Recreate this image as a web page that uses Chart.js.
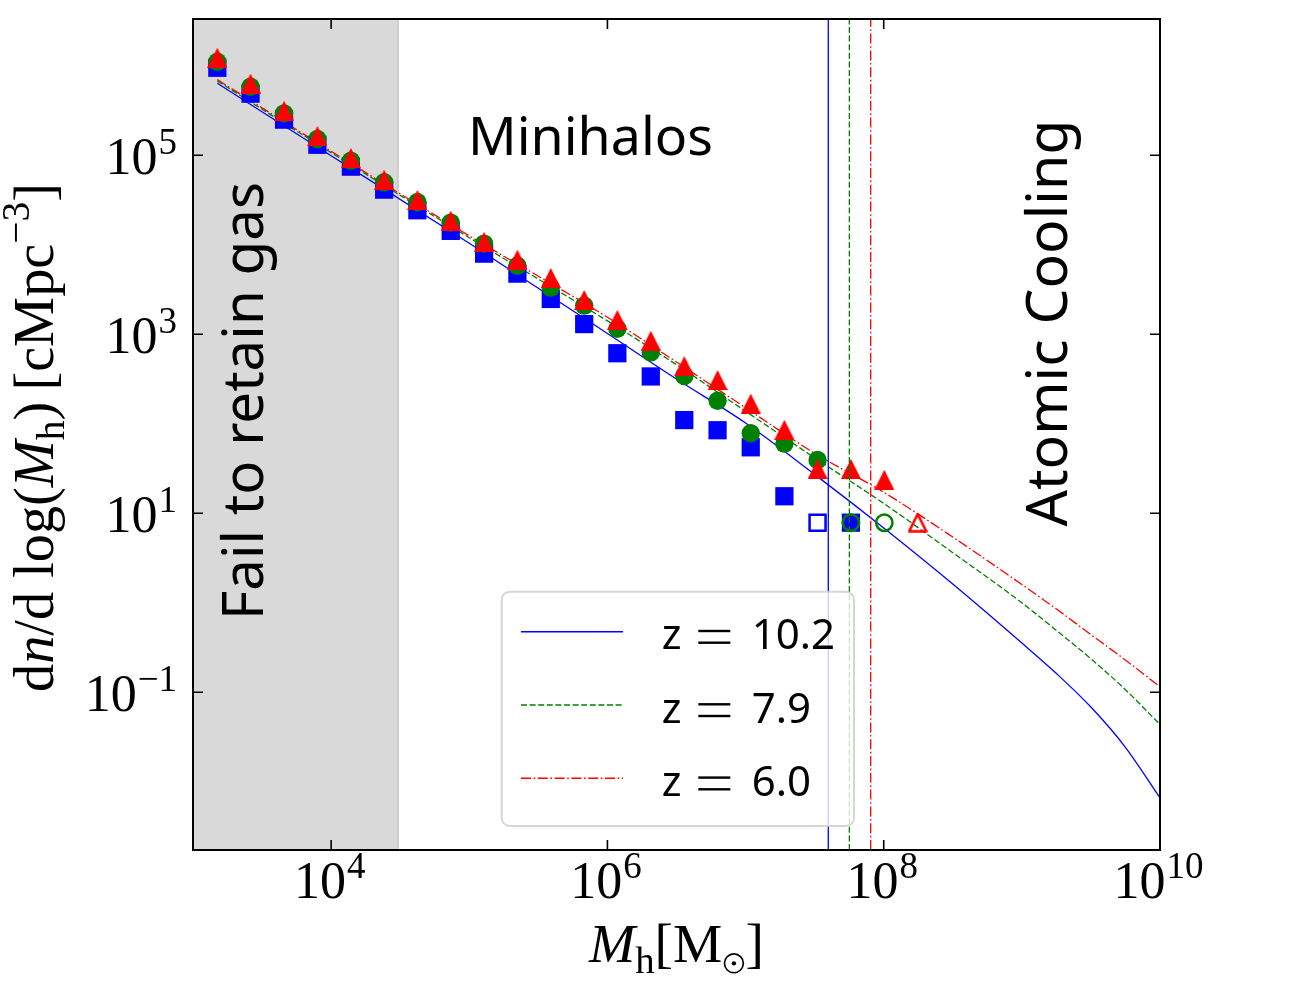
<!DOCTYPE html>
<html>
<head>
<meta charset="utf-8">
<script src="https://cdn.jsdelivr.net/npm/chart.js@4.4.1/dist/chart.umd.min.js"></script>
<style>
  html, body { margin: 0; padding: 0; background: #fff; }
</style>
</head>
<body>
<canvas id="chart" width="1290" height="1000"></canvas>
<script>
'use strict';

// halo mass bins of the simulation points (Msun)
const binMass = [1.50e3, 2.61e3, 4.56e3, 7.95e3, 1.39e4, 2.42e4, 4.21e4, 7.34e4, 1.28e5, 2.23e5, 3.89e5,
                 6.79e5, 1.18e6, 2.06e6, 3.60e6, 6.27e6, 1.09e7, 1.91e7, 3.32e7, 5.79e7, 1.01e8, 1.76e8];

// dn/dlogM from the simulation (cMpc^-3)
const simZ102 = [9.5e5, 4.88e5, 2.50e5, 1.31e5, 7.46e4, 4.13e4, 2.43e4, 1.43e4, 7.96e3, 4.76e3, 2.48e3,
                 1.30e3, 614, 338, 110, 84.7, 54.6, 15.5, 7.85, 7.85, null, null];
const simZ79 = [1.11e6, 5.83e5, 2.94e5, 1.52e5, 8.71e4, 4.99e4, 3.01e4, 1.77e4, 1.03e4, 5.84e3, 3.32e3,
                2.09e3, 1.15e3, 627, 342, 181, 78.3, 60.0, 39.4, 7.85, 7.85, null];
const simZ60 = [1.23e6, 6.31e5, 3.14e5, 1.64e5, 9.33e4, 5.34e4, 3.17e4, 1.86e4, 1.08e4, 6.82e3, 4.26e3,
                2.42e3, 1.45e3, 848, 441, 308, 168, 85.9, 31.3, 31.3, 23.7, 7.85];

// bins drawn as open markers
const hollowZ102 = [18];
const hollowZ79 = [19, 20];
const hollowZ60 = [21];

// analytic mass function curves
const fitMass = [1.5e3, 1e4, 1e5, 1e6, 3.16e6, 1e7, 3.16e7, 1e8, 3.16e8, 1e9, 1.78e9, 3.16e9, 5.62e9, 1e10];
const fitZ102 = [6.37e5, 9.86e4, 1.04e4, 1.02e3, 316, 102, 27.2, 6.84, 1.62, 0.355, 0.162, 0.0684, 0.0243, 0.00661];
const fitZ79 = [6.76e5, 1.07e5, 1.20e4, 1.41e3, 457, 138, 41.7, 12.9, 3.63, 1.0, 0.49, 0.237, 0.107, 0.0437];
const fitZ60 = [7.00e5, 1.11e5, 1.26e4, 1.55e3, 490, 151, 46.8, 17.2, 5.43, 1.60, 0.851, 0.442, 0.229, 0.115];

// atomic cooling threshold for each redshift, and gas retention limit
const coolingMass = [3.97e7, 5.64e7, 8.05e7];
const gasCutMass = 3.05e4;

const zLabels = ['10.2', '7.9', '6.0'];
const xRange = [1e3, 1e10];
const yRange = [1.73e-3, 3.33e6];
const xTickPowers = [4, 6, 8, 10];
const yTickPowers = [5, 3, 1, -1];

const SERIF = '"Liberation Serif", "DejaVu Serif", serif';
const SANS = '"Noto Sans", "DejaVu Sans", sans-serif';
const colors = ['#0000ff', '#008000', '#ff0000'];
const dashes = [[], [6, 2.6], [10, 2.6, 1.6, 2.6]];

function pairs(xs, ys) {
  return xs.map((x, i) => ({ x: x, y: ys[i] }));
}

function makeTriangle(color, hollow) {
  let size = 20;
  let c = document.createElement('canvas');
  c.width = size;
  c.height = size;
  let g = c.getContext('2d');
  g.beginPath();
  if (hollow) {
    let p = 1.4;
    g.moveTo(size / 2, p);
    g.lineTo(size - p, size - p);
    g.lineTo(p, size - p);
    g.closePath();
    g.lineJoin = 'round';
    g.lineWidth = 2.5;
    g.strokeStyle = color;
    g.stroke();
  } else {
    g.moveTo(size / 2, 0);
    g.lineTo(size, size);
    g.lineTo(0, size);
    g.closePath();
    g.fillStyle = color;
    g.fill();
  }
  return c;
}
const triFull = makeTriangle(colors[2], false);
const triOpen = makeTriangle(colors[2], true);

function markerSet(values, hollow, color, style, order) {
  return {
    data: pairs(binMass, values),
    showLine: false,
    order: order,
    pointStyle: c => {
      if (style === 'triangle') return hollow.includes(c.dataIndex) ? triOpen : triFull;
      return style;
    },
    pointRadius: c => {
      let open = hollow.includes(c.dataIndex);
      if (style === 'rect') return open ? 11.3 : 12.9;
      return open ? 8.2 : 9.2;
    },
    pointBorderWidth: c => hollow.includes(c.dataIndex) ? 2.5 : 0,
    pointBackgroundColor: c => hollow.includes(c.dataIndex) ? 'rgba(0,0,0,0)' : color,
    pointBorderColor: color
  };
}

function curveSet(values, i) {
  return {
    data: pairs(fitMass, values),
    showLine: true,
    order: 10 + i,
    borderColor: colors[i],
    borderWidth: 1.3,
    borderDash: dashes[i],
    pointRadius: 0,
    cubicInterpolationMode: 'monotone',
    fill: false
  };
}

function vlineSet(i) {
  return {
    data: [{ x: coolingMass[i], y: yRange[0] }, { x: coolingMass[i], y: yRange[1] }],
    showLine: true,
    order: 0,
    borderColor: colors[i],
    borderWidth: 1.3,
    borderDash: dashes[i],
    pointRadius: 0,
    fill: false
  };
}

function pieceFont(p, base) {
  return (p.it ? 'italic ' : '') + (p.s || 1) * base + 'px ' + SERIF;
}

function piecesWidth(ctx, pieces, base) {
  let total = 0;
  for (let p of pieces) {
    if (p.sun) {
      p.w = 0.42 * base;
    } else {
      ctx.font = pieceFont(p, base);
      p.w = ctx.measureText(p.t).width;
    }
    total += p.w;
  }
  return total;
}

// draw a run of text pieces (math-like label) centred on cx
function drawPieces(ctx, pieces, base, cx, baseY) {
  let total = piecesWidth(ctx, pieces, base);
  let x = cx - total / 2;
  for (let p of pieces) {
    let y = baseY + (p.dy || 0) * base;
    if (p.sun) {
      let r = 0.17 * base;
      ctx.beginPath();
      ctx.lineWidth = 0.03 * base;
      ctx.arc(x + p.w / 2, y - r, r, 0, Math.PI * 2);
      ctx.stroke();
      ctx.beginPath();
      ctx.arc(x + p.w / 2, y - r, 0.04 * base, 0, Math.PI * 2);
      ctx.fill();
    } else {
      ctx.font = pieceFont(p, base);
      ctx.fillText(p.t, x, y);
    }
    x += p.w;
  }
}

function fitPieces(ctx, pieces, target) {
  return 100 * target / piecesWidth(ctx, pieces, 100);
}

function powerLabel(ctx, exp, x, y, align) {
  let expText = exp < 0 ? '\u2212' + (-exp) : String(exp);
  ctx.font = '52px ' + SERIF;
  let wb = ctx.measureText('10').width;
  ctx.font = '37px ' + SERIF;
  let we = ctx.measureText(expText).width;
  let x0 = align === 'right' ? x - wb - we : x - (wb + we) / 2;
  ctx.font = '52px ' + SERIF;
  ctx.fillText('10', x0, y);
  ctx.font = '37px ' + SERIF;
  ctx.fillText(expText, x0 + wb + 1, y - 20);
}

function sansText(ctx, text, width, cx, baseY, rotate) {
  ctx.font = '100px ' + SANS;
  let size = 100 * width / ctx.measureText(text).width;
  ctx.font = size + 'px ' + SANS;
  ctx.save();
  ctx.translate(cx, baseY);
  if (rotate) ctx.rotate(-Math.PI / 2);
  ctx.textAlign = 'center';
  ctx.fillText(text, 0, 0);
  ctx.restore();
}

const decor = {
  id: 'decor',
  beforeDatasetsDraw(chart) {
    let ctx = chart.ctx;
    let a = chart.chartArea;
    let xs = chart.scales.x;
    let x1 = xs.getPixelForValue(xRange[0]);
    let x2 = xs.getPixelForValue(gasCutMass);
    ctx.save();
    ctx.fillStyle = '#d9d9d9';
    ctx.fillRect(x1, a.top, x2 - x1, a.bottom - a.top);
    ctx.strokeStyle = '#c6c6c6';
    ctx.lineWidth = 1.5;
    ctx.beginPath();
    ctx.moveTo(x2, a.top);
    ctx.lineTo(x2, a.bottom);
    ctx.stroke();
    ctx.restore();
  },
  afterDatasetsDraw(chart) {
    let ctx = chart.ctx;
    let a = chart.chartArea;
    let xs = chart.scales.x;
    let ys = chart.scales.y;
    ctx.save();
    ctx.fillStyle = '#000';
    ctx.strokeStyle = '#000';
    ctx.textBaseline = 'alphabetic';

    // region annotations
    sansText(ctx, 'Minihalos', 245, 590.5, 155, false);
    sansText(ctx, 'Fail to retain gas', 438, 263, 401, true);
    sansText(ctx, 'Atomic Cooling', 407, 1067, 323, true);

    // frame and inward ticks
    ctx.lineWidth = 2;
    ctx.strokeRect(a.left, a.top, a.right - a.left, a.bottom - a.top);
    ctx.lineWidth = 1.6;
    ctx.beginPath();
    for (let p of xTickPowers) {
      let px = xs.getPixelForValue(Math.pow(10, p));
      ctx.moveTo(px, a.bottom); ctx.lineTo(px, a.bottom - 10);
      ctx.moveTo(px, a.top); ctx.lineTo(px, a.top + 10);
    }
    for (let p of yTickPowers) {
      let py = ys.getPixelForValue(Math.pow(10, p));
      ctx.moveTo(a.left, py); ctx.lineTo(a.left + 10, py);
      ctx.moveTo(a.right, py); ctx.lineTo(a.right - 10, py);
    }
    ctx.stroke();

    // tick labels
    ctx.textAlign = 'left';
    for (let p of xTickPowers) {
      powerLabel(ctx, p, xs.getPixelForValue(Math.pow(10, p)) - 2, a.bottom + 48, 'center');
    }
    for (let p of yTickPowers) {
      powerLabel(ctx, p, a.left - 17, ys.getPixelForValue(Math.pow(10, p)) + 19, 'right');
    }

    // axis titles
    let xPieces = [
      { t: 'M', it: true }, { t: 'h', s: 0.7, dy: 0.2 }, { t: '[M' }, { sun: true, dy: 0.2 }, { t: ']' }
    ];
    let xBase = fitPieces(ctx, xPieces, 175);
    drawPieces(ctx, xPieces, xBase, (a.left + a.right) / 2, 961.7);

    let yPieces = [
      { t: 'd' }, { t: 'n', it: true }, { t: '/d log(' }, { t: 'M', it: true }, { t: 'h', s: 0.7, dy: 0.2 },
      { t: ')\u2009[cMpc' }, { t: '\u22123', s: 0.7, dy: -0.42 }, { t: ']' }
    ];
    let yBase = fitPieces(ctx, yPieces, 509);
    ctx.save();
    ctx.translate(53, 437.5);
    ctx.rotate(-Math.PI / 2);
    drawPieces(ctx, yPieces, yBase, 0, 0);
    ctx.restore();

    // legend
    ctx.beginPath();
    ctx.roundRect(501.7, 591.7, 352.3, 234.3, 8);
    ctx.fillStyle = 'rgba(255,255,255,0.8)';
    ctx.fill();
    ctx.lineWidth = 2;
    ctx.strokeStyle = 'rgba(204,204,204,0.8)';
    ctx.stroke();
    let rows = [631.7, 705, 778.3];
    for (let i = 0; i < 3; i++) {
      let ry = rows[i];
      ctx.save();
      ctx.strokeStyle = colors[i];
      ctx.lineWidth = 1.5;
      ctx.setLineDash(dashes[i]);
      ctx.beginPath();
      ctx.moveTo(521, ry);
      ctx.lineTo(623, ry);
      ctx.stroke();
      ctx.restore();
      ctx.fillStyle = '#000';
      ctx.font = '42px ' + SANS;
      ctx.textAlign = 'left';
      let by = ry + 17.6;
      ctx.fillText('z', 661.7, by);
      ctx.fillRect(698.3, by - 19.5, 32, 2.4);
      ctx.fillRect(698.3, by - 7.8, 32, 2.4);
      ctx.fillText(zLabels[i], 751.7, by);
    }
    ctx.restore();
  }
};

let canvasElem = document.getElementById('chart');

let config = {
  type: 'scatter',
  data: {
    datasets: [
      vlineSet(0), vlineSet(1), vlineSet(2),
      markerSet(simZ60, hollowZ60, colors[2], 'triangle', 1),
      markerSet(simZ79, hollowZ79, colors[1], 'circle', 2),
      markerSet(simZ102, hollowZ102, colors[0], 'rect', 3),
      curveSet(fitZ102, 0), curveSet(fitZ79, 1), curveSet(fitZ60, 2)
    ]
  },
  options: {
    responsive: false,
    animation: false,
    devicePixelRatio: 1,
    events: [],
    layout: { padding: { left: 193, top: 19, right: 130, bottom: 150 } },
    scales: {
      x: { type: 'logarithmic', min: xRange[0], max: xRange[1], display: false },
      y: { type: 'logarithmic', min: yRange[0], max: yRange[1], display: false }
    },
    plugins: {
      legend: { display: false },
      tooltip: { enabled: false }
    }
  },
  plugins: [decor]
};

new Chart(canvasElem, config);
</script>
</body>
</html>
